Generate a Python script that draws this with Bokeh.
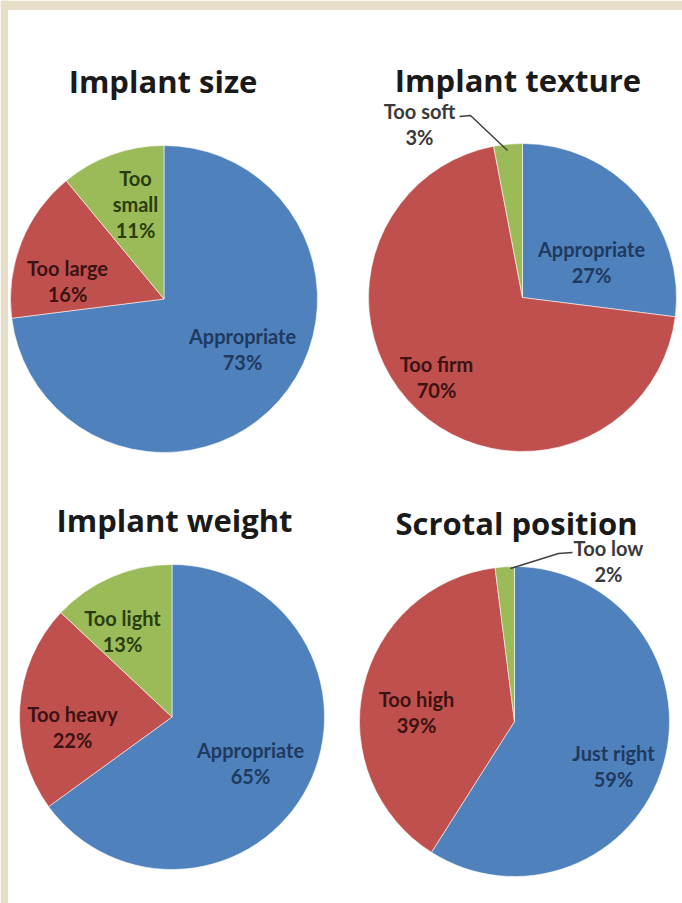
import math
from bokeh.plotting import figure
from bokeh.models import Range1d, ColumnDataSource
from bokeh.embed import file_html
from bokeh.resources import INLINE
from bokeh.core.properties import value

# ---------------- data ----------------
titles = ["Implant size", "Implant texture", "Implant weight", "Scrotal position"]

size_labels = ["Appropriate", "Too large", "Too\nsmall"]
size_values = [73, 16, 11]

texture_labels = ["Appropriate", "Too firm", "Too soft"]
texture_values = [27, 70, 3]

weight_labels = ["Appropriate", "Too heavy", "Too light"]
weight_values = [65, 22, 13]

position_labels = ["Just right", "Too high", "Too low"]
position_values = [59, 39, 2]

# ---------------- styles ----------------
slice_colors = ["#4F81BD", "#C0504D", "#9BBB59"]
inside_text_colors = ["#1F3A60", "#3D1212", "#2A3D10"]
outside_text_color = "#3A3A3A"
title_color = "#1A1A1A"
frame_color = "#E6DEC8"
LABEL_FONT = value("Lato")
TITLE_FONT = value("Open Sans")
LINE_GAP = 26

# ---------------- layout (page pixel coordinates) ----------------
layout = [
    dict(cx=163.5, cy=298.5, r=153.5, tx=162.5, ty=80,
         lab=[(242, 348), (67, 280), (135, 203.5)], outside=[False, False, False], leader=None),
    dict(cx=522, cy=297, r=154, tx=517.5, ty=79,
         lab=[(591, 261.5), (436, 376.5), (419, 123.5)], outside=[False, False, True],
         leader=[(459, 116), (470, 115), (507, 150)]),
    dict(cx=171.5, cy=716.5, r=152.5, tx=174, ty=519,
         lab=[(250, 762), (72, 726), (122, 630)], outside=[False, False, False], leader=None),
    dict(cx=514, cy=721, r=155, tx=516, ty=522,
         lab=[(613, 765), (416, 711.5), (608, 560)], outside=[False, False, True],
         leader=[(572, 552), (558, 553), (510, 568)]),
]
series = [
    (size_labels, size_values),
    (texture_labels, texture_values),
    (weight_labels, weight_values),
    (position_labels, position_values),
]

W, H = 682, 903
p = figure(width=W, height=H, x_range=Range1d(0, W), y_range=Range1d(-H, 0),
           output_backend="svg", toolbar_location=None, min_border=0)
p.axis.visible = False
p.grid.visible = False
p.outline_line_color = None
p.background_fill_color = "white"
p.border_fill_color = "white"

# beige frame strips (top and left)
p.quad(left=[0, 0], right=[W, 7.5], top=[0, 0], bottom=[-9.5, -H],
       fill_color=frame_color, line_color=None)

for title, (labels, values), lay in zip(titles, series, layout):
    total = float(sum(values))
    starts, ends = [], []
    cum = 0.0
    for v in values:
        starts.append(math.pi / 2 - 2 * math.pi * cum / total)
        cum += v
        ends.append(math.pi / 2 - 2 * math.pi * cum / total)
    src = ColumnDataSource(dict(
        x=[lay["cx"]] * len(values), y=[-lay["cy"]] * len(values),
        start=starts, end=ends, color=slice_colors[:len(values)],
    ))
    p.wedge(x="x", y="y", radius=lay["r"], start_angle="start", end_angle="end",
            direction="clock", fill_color="color", line_color="white", line_width=0.8,
            line_alpha=0.7, source=src)

    # title
    p.text(x=[lay["tx"]], y=[-lay["ty"]], text=[title], text_font=TITLE_FONT,
           text_font_style="bold", text_font_size="31px", text_color=title_color,
           text_align="center", text_baseline="alphabetic")

    # leader line
    if lay["leader"]:
        xs = [pt[0] for pt in lay["leader"]]
        ys = [-pt[1] for pt in lay["leader"]]
        p.line(xs, ys, line_color="#404040", line_width=1.5)

    # slice labels
    lx, ly, lt, lc = [], [], [], []
    for i, (name, v) in enumerate(zip(labels, values)):
        lines = name.split("\n") + [f"{v}%"]
        bx, by = lay["lab"][i]
        n = len(lines)
        for k, t in enumerate(lines):
            lx.append(bx)
            ly.append(-(by + (k - (n - 1) / 2) * LINE_GAP))
            lt.append(t)
            lc.append(outside_text_color if lay["outside"][i] else inside_text_colors[i])
    p.text(x=lx, y=ly, text=lt, text_color=lc, text_font=LABEL_FONT,
           text_font_style="bold", text_font_size="20px",
           text_align="center", text_baseline="middle")

open("out.html", "w").write(file_html(p, INLINE))
